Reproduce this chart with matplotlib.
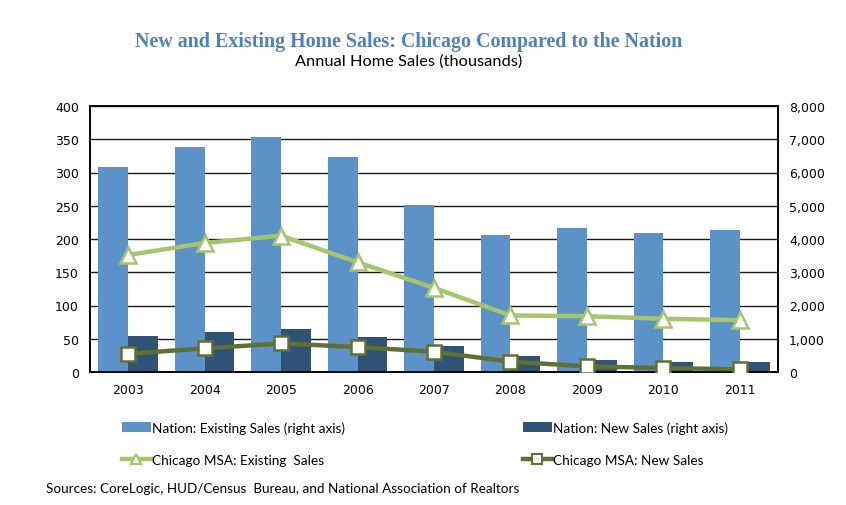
import matplotlib
matplotlib.use("Agg")
import matplotlib.pyplot as plt
import numpy as np
from matplotlib.lines import Line2D
from matplotlib.patches import Patch

years = ["2003", "2004", "2005", "2006", "2007", "2008", "2009", "2010", "2011"]
nation_existing = [6170, 6780, 7070, 6470, 5030, 4110, 4330, 4180, 4260]
nation_new = [1080, 1200, 1280, 1050, 770, 480, 360, 310, 300]
chicago_existing = [176, 194, 205, 165, 126.5, 85, 84, 80, 78]
chicago_new = [27.5, 35.5, 43, 37.5, 30.5, 15.5, 8.5, 6, 4]

left_ticks = [0, 50, 100, 150, 200, 250, 300, 350, 400]
right_ticks = [0, 1000, 2000, 3000, 4000, 5000, 6000, 7000, 8000]

C_EX = "#5B93C9"
C_NEW = "#2F5276"
C_CEX = "#A6C56C"
C_CNEW = "#5E7131"
TICK_FONT = "DejaVu Sans"
TXT_FONT = "Lato"

fig = plt.figure(figsize=(8.46, 5.06), dpi=100)
W, H = 846, 506
l, r, t, b = 90, 778, 107, 373
ax_r = fig.add_axes([l / W, 1 - b / H, (r - l) / W, (b - t) / H])
x = np.arange(len(years))
bw = 0.39
ax_r.bar(x - bw / 2, nation_existing, width=bw, color=C_EX, zorder=2)
ax_r.bar(x + bw / 2, nation_new, width=bw, color=C_NEW, zorder=2)
ax_r.set_ylim(0, 8000)
ax_r.set_xlim(-0.5, len(years) - 0.5)
ax_r.set_axisbelow(True)
ax_r.grid(axis="y", color="#1a1a1a", linewidth=1.0)
ax_r.set_xticks(x)
ax_r.set_xticklabels(years, fontfamily=TICK_FONT, fontsize=9)

ax_l = ax_r.twinx()
ax_l.yaxis.tick_left()
ax_r.yaxis.tick_right()
ax_r.yaxis.set_label_position("right")
ax_r.set_yticks(right_ticks)
ax_r.set_yticklabels([f"{v:,}" for v in right_ticks], fontfamily=TICK_FONT, fontsize=9)
ax_r.tick_params(axis="both", length=0, pad=8)

ax_l.plot(x, chicago_existing, color=C_CEX, lw=3.2, marker="^", ms=11,
          mfc="white", mec=C_CEX, mew=1.8, zorder=3)
ax_l.plot(x, chicago_new, color=C_CNEW, lw=3.2, marker="s", ms=9.5,
          mfc="white", mec=C_CNEW, mew=1.8, zorder=3)
ax_l.set_ylim(0, 400)
ax_l.set_yticks(left_ticks)
ax_l.set_yticklabels([str(v) for v in left_ticks], fontfamily=TICK_FONT, fontsize=9)
ax_l.tick_params(axis="y", length=0, pad=8)
for a in (ax_r, ax_l):
    for s in a.spines.values():
        s.set_color("black")
        s.set_linewidth(1.2)

fig.text(409 / W, 1 - 42 / H, "New and Existing Home Sales: Chicago Compared to the Nation",
         ha="center", va="center", fontfamily="Liberation Serif", fontweight="bold",
         fontsize=14.4, color="#4F81BD")
fig.text(409 / W, 1 - 62 / H, "Annual Home Sales (thousands)", ha="center", va="center",
         fontfamily=TXT_FONT, fontsize=11.8, color="black")

h_ex = Patch(facecolor=C_EX, edgecolor="none")
h_new = Patch(facecolor=C_NEW, edgecolor="none")
h_cex = Line2D([], [], color=C_CEX, lw=3.2, marker="^", ms=7, mfc="white", mec=C_CEX, mew=1.5)
h_cnew = Line2D([], [], color=C_CNEW, lw=3.2, marker="s", ms=7, mfc="white", mec=C_CNEW, mew=1.5)

common = dict(frameon=False, borderpad=0, borderaxespad=0, handlelength=2.1, handleheight=0.8,
              handletextpad=0.1, labelspacing=1.5, prop={"family": TXT_FONT, "size": 9.8})
leg1 = fig.legend([h_ex, h_cex], ["Nation: Existing Sales (right axis)", "Chicago MSA: Existing  Sales"],
                  loc="center left", bbox_to_anchor=(122 / W, 1 - 444.5 / H), **common)
leg2 = fig.legend([h_new, h_cnew], ["Nation: New Sales (right axis)", "Chicago MSA: New Sales"],
                  loc="center left", bbox_to_anchor=(523 / W, 1 - 444.5 / H), **common)

fig.text(46 / W, 1 - 489 / H, "Sources: CoreLogic, HUD/Census  Bureau, and National Association of Realtors",
         ha="left", va="center", fontfamily=TXT_FONT, fontsize=9.7, color="black")

fig.savefig("out.png", dpi=100)
